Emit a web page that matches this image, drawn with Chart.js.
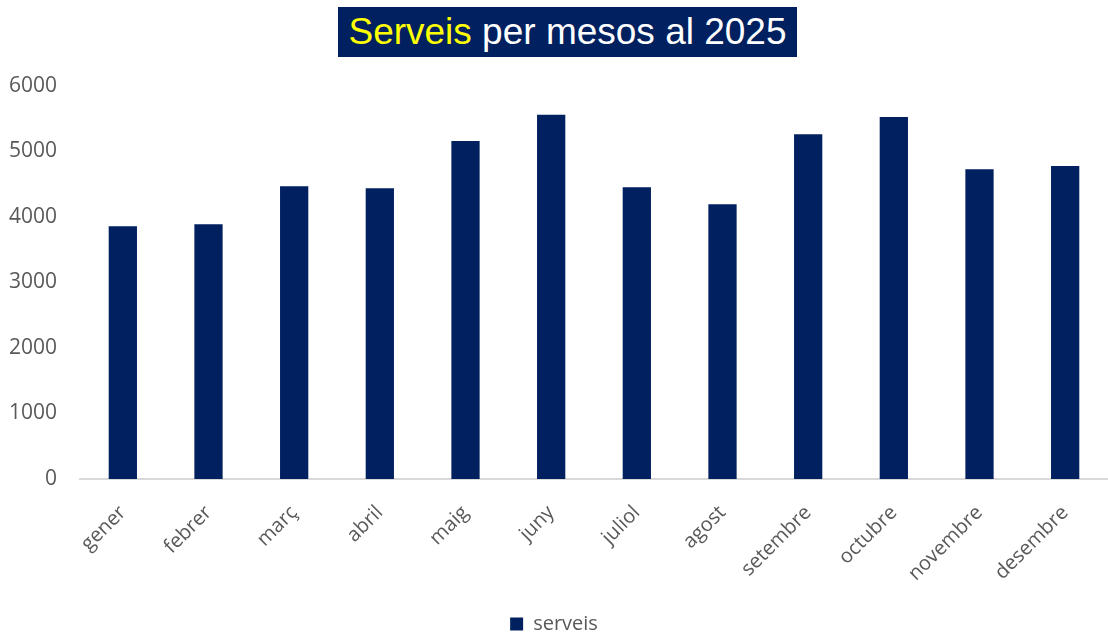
<!DOCTYPE html>
<html>
<head>
<meta charset="utf-8">
<script src="https://cdn.jsdelivr.net/npm/chart.js@4"></script>
<style>
  html, body { margin: 0; padding: 0; background: #fff; }
  #wrap { position: relative; width: 1108px; height: 637px; }
  #title {
    position: absolute; left: 338px; top: 7px; width: 459px; height: 50px;
    background: #002060; color: #fff; text-align: center;
    font-family: 'Liberation Sans', Arial, sans-serif; font-size: 37px; line-height: 50px;
    white-space: nowrap;
  }
  #title .hl { color: #ffff00; }
</style>
</head>
<body>
<div id="wrap">
  <canvas id="chart" width="1108" height="637"></canvas>
  <div id="title"><span class="hl">Serveis</span> per mesos al 2025</div>
</div>
<script>
// --- Data ---
const months = ['gener', 'febrer', 'març', 'abril', 'maig', 'juny', 'juliol', 'agost', 'setembre', 'octubre', 'novembre', 'desembre'];
const serveis = [3860, 3890, 4470, 4440, 5160, 5560, 4455, 4195, 5265, 5525, 4730, 4780];
const yTicks = [0, 1000, 2000, 3000, 4000, 5000, 6000];

const navy = '#002060';
const grey = '#595959';
const font = "'Open Sans', sans-serif";

const ctx = document.getElementById('chart').getContext('2d');
new Chart(ctx, {
    type: 'bar',
    data: {
        labels: months,
        datasets: [{
            label: 'serveis',
            data: serveis,
            backgroundColor: navy,
            borderWidth: 0,
            barPercentage: 0.33,
            categoryPercentage: 1
        }]
    },
    options: {
        responsive: false,
        animation: false,
        layout: { padding: { top: 86, right: 0, bottom: -7, left: 0 } },
        plugins: {
            title: { display: false },
            tooltip: { enabled: false },
            legend: {
                position: 'bottom',
                labels: {
                    color: grey,
                    font: { family: font, size: 20 },
                    boxWidth: 13,
                    boxHeight: 13,
                    padding: 0
                }
            }
        },
        scales: {
            y: {
                min: 0,
                max: 6000,
                afterBuildTicks: (axis) => { axis.ticks = yTicks.map(v => ({ value: v })); },
                afterFit: (axis) => { axis.width = 80; },
                grid: { display: false },
                border: { display: false },
                ticks: {
                    color: grey,
                    font: { family: font, size: 21 },
                    padding: 15,
                    callback: (v) => String(v)
                }
            },
            x: {
                afterFit: (axis) => { axis.height = 135; },
                grid: { display: false },
                border: { color: '#d9d9d9', width: 2 },
                ticks: {
                    color: grey,
                    font: { family: font, size: 20 },
                    minRotation: 45,
                    maxRotation: 45,
                    padding: 14
                }
            }
        }
    }
});
</script>
</body>
</html>
